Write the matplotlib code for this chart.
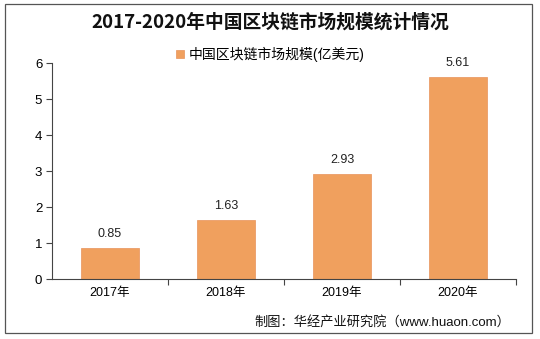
import matplotlib

matplotlib.use('Agg')
import matplotlib.pyplot as plt
import numpy as np
from matplotlib.patches import Rectangle

plt.rcParams['font.family'] = ['Liberation Sans', 'Noto Sans CJK SC', 'DejaVu Sans']

years = ['2017年', '2018年', '2019年', '2020年']
market_size = [0.85, 1.63, 2.93, 5.61]
series_name = '中国区块链市场规模(亿美元)'
title = '2017-2020年中国区块链市场规模统计情况'
source = '制图：华经产业研究院（www.huaon.com）'

bar_color = '#F0A05E'

fig = plt.figure(figsize=(5.4, 3.39), dpi=100)
fig.patch.set_facecolor('white')

# outer frame
fig.patches.append(Rectangle((5 / 540, 6 / 339), 527 / 540, 329 / 339,
                             transform=fig.transFigure, fill=False,
                             edgecolor='#555555', linewidth=0.9))

ax = fig.add_axes([52 / 540, 60 / 339, 464 / 540, 216 / 339])
x = np.arange(len(years))
ax.bar(x, market_size, width=0.5, color=bar_color,
       edgecolor='#E8925A', linewidth=0.5, label=series_name)

for xi, v in zip(x, market_size):
    ax.text(xi, v + 0.22, f'{v:.2f}', ha='center', va='bottom',
            fontsize=9, color='#222222')

ax.set_xlim(-0.5, len(years) - 0.5)
ax.set_ylim(0, 6)
ax.set_yticks(range(0, 7))
ax.tick_params(axis='y', labelsize=9.5, length=4, width=0.8, color='#444444', pad=3)

ax.set_xticks(x)
ax.set_xticklabels(years, fontsize=9)
ax.tick_params(axis='x', length=0, pad=6)
# separators between categories
ax.set_xticks(np.arange(0.5, len(years)), minor=True)
ax.tick_params(axis='x', which='minor', length=4, width=0.8, color='#444444')

for side in ('top', 'right'):
    ax.spines[side].set_visible(False)
for side in ('left', 'bottom'):
    ax.spines[side].set_color('#444444')
    ax.spines[side].set_linewidth(0.8)

fig.text(0.5, 1 - 22 / 339, title, ha='center', va='center',
         fontsize=13.5, fontweight='bold', color='#111111',
         family=['Noto Sans CJK SC', 'DejaVu Sans'])

ax.legend(loc='center', bbox_to_anchor=(0.47, 1.04), frameon=False,
          fontsize=10, handlelength=0.6, handleheight=0.6,
          handletextpad=0.3, borderaxespad=0, borderpad=0)

fig.text(254 / 540, 1 - 322 / 339, source, ha='left', va='center',
         fontsize=9.5, color='#111111')

fig.savefig('out.png', dpi=100, facecolor='white')
